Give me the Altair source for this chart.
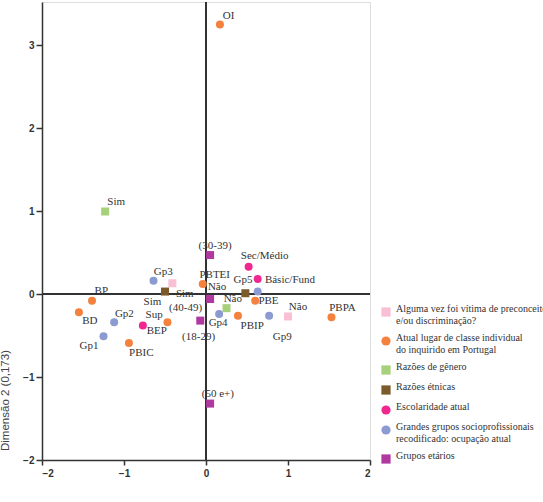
import altair as alt
import pandas as pd

# Legend groups (line breaks as in the reference legend)
groups = [
    "Alguma vez foi vítima de preconceito\ne/ou discriminação?",
    "Atual lugar de classe individual\ndo inquirido em Portugal",
    "Razões de gênero",
    "Razões étnicas",
    "Escolaridade atual",
    "Grandes grupos socioprofissionais\nrecodificado: ocupação atual",
    "Grupos etários",
]
group_colors = ["#f8bfd5", "#f5813e", "#a6d07a", "#7b5b2c", "#f0278f", "#8b9ad0", "#b0399f"]
group_shapes = ["square", "circle", "square", "square", "circle", "circle", "square"]

# Category points
labels = ["OI", "Sim", "(30-39)", "Sec/Médio", "Básic/Fund", "Gp5", "Gp3", "PBTEI",
          "Sim", "Sim", "Não", "Não", "PBE", "Gp4", "PBIP", "Gp9", "Não", "PBPA",
          "BP", "BD", "Gp2", "Gp1", "Sup", "BEP", "PBIC", "(40-49)", "(18-29)", "(50 e+)"]
dim1 = [0.17, -1.23, 0.05, 0.52, 0.63, 0.63, -0.64, -0.04,
        -0.41, -0.50, 0.48, 0.25, 0.60, 0.16, 0.39, 0.77, 1.00, 1.53,
        -1.39, -1.55, -1.12, -1.25, -0.77, -0.47, -0.94, 0.05, -0.07, 0.05]
dim2 = [3.25, 0.995, 0.47, 0.33, 0.18, 0.03, 0.16, 0.12,
        0.13, 0.03, 0.01, -0.17, -0.08, -0.24, -0.26, -0.26, -0.27, -0.28,
        -0.08, -0.22, -0.34, -0.51, -0.38, -0.34, -0.59, -0.06, -0.32, -1.32]
group_index = [1, 2, 6, 4, 4, 5, 5, 1,
               0, 3, 3, 2, 1, 5, 1, 5, 0, 1,
               1, 1, 5, 5, 4, 1, 1, 6, 6, 6]

# Label placement (pixel offsets from each point)
label_dx = [8.7, 11, 5, 16, 32.3, -14.7, 9.7, 12,
            -20, 19.8, -28.3, 6.3, 13.3, -1, 14.2, 13.2, 10, 11,
            9.3, 11, 10.2, -14.5, 11.3, -10.6, 12.4, -24.5, -1.7, 7.8]
label_dy = [-8, -10, -9.5, -10.3, 0.6, -11.7, -8.3, -9.3,
            19, 2, -6, -8.7, 0, 9.5, 10.7, 21.7, -9, -9.7,
            -9.3, 9, -8.7, 10, -10.7, 9, 9.6, 9.4, 16.3, -9.4]

df = pd.DataFrame({
    "label": labels,
    "d1": dim1,
    "d2": dim2,
    "group": [groups[i] for i in group_index],
    "dx": label_dx,
    "dy": label_dy,
})

W, H = 328, 458
XMIN, XMAX = -2, 2
YMIN, YMAX = -2, 3.52
PX_X = W / (XMAX - XMIN)
PX_Y = H / (YMAX - YMIN)

xscale = alt.Scale(domain=[XMIN, XMAX], nice=False, zero=False)
yscale = alt.Scale(domain=[YMIN, YMAX], nice=False, zero=False)

xaxis = alt.Axis(values=[-2, -1, 0, 1, 2], title=None, grid=False,
                 domainColor="#333", domainWidth=1.5, tickColor="#333", tickWidth=1.5,
                 tickSize=5, labelFont="Liberation Sans", labelFontSize=10,
                 labelFontWeight="bold", labelColor="#333", labelPadding=3, format="d")
yaxis = alt.Axis(values=[-2, -1, 0, 1, 2, 3], title="Dimensão 2 (0,173)", grid=False,
                 domainColor="#333", domainWidth=1.5, tickColor="#333", tickWidth=1.5,
                 tickSize=6, labelFont="Liberation Sans", labelFontSize=10,
                 labelFontWeight="bold", labelColor="#333", labelPadding=2, format="d",
                 titleFont="Liberation Sans", titleFontSize=11.5, titleFontWeight="normal",
                 titleColor="#444", titleX=-34, titleY=398, titleAngle=270,
                 titleAlign="center", titleBaseline="alphabetic")

legend = alt.Legend(orient="none", legendX=339, legendY=305, title=None,
                    labelExpr="split(datum.label, '\\n')",
                    labelFont="Liberation Serif", labelFontSize=10, labelColor="#333",
                    labelBaseline="alphabetic", labelLimit=0, labelOffset=5,
                    symbolSize=85, symbolStrokeWidth=0, rowPadding=7, padding=0)

base = alt.Chart(df)

zero_v = alt.Chart(df).mark_rule(color="#333", strokeWidth=1.5).encode(
    x=alt.datum(0, scale=xscale, axis=xaxis))
zero_h = alt.Chart(df).mark_rule(color="#333", strokeWidth=1.5).encode(
    y=alt.datum(0, scale=yscale, axis=yaxis))

points = base.mark_point(filled=True, opacity=1, size=64).encode(
    x=alt.X("d1:Q", scale=xscale, axis=xaxis),
    y=alt.Y("d2:Q", scale=yscale, axis=yaxis),
    color=alt.Color("group:N", scale=alt.Scale(domain=groups, range=group_colors), legend=legend),
    shape=alt.Shape("group:N", scale=alt.Scale(domain=groups, range=group_shapes), legend=legend),
)

texts = base.transform_calculate(
    lx=f"datum.d1 + datum.dx / {PX_X}",
    ly=f"datum.d2 - datum.dy / {PX_Y}",
).mark_text(font="Liberation Serif", fontSize=11, color="#333",
            align="center", baseline="middle").encode(
    x=alt.X("lx:Q", scale=xscale),
    y=alt.Y("ly:Q", scale=yscale),
    text="label:N",
)

chart = alt.layer(zero_v, zero_h, points, texts).properties(
    width=W, height=H,
    autosize=alt.AutoSizeParams(type="none"),
    padding={"left": 42, "top": 2, "right": 543 - 42 - W, "bottom": 502 - 2 - H},
).configure_view(stroke="#666", strokeWidth=1.5).configure(background="white")

chart.save("out.html", embed_options={"renderer": "svg", "actions": False})
